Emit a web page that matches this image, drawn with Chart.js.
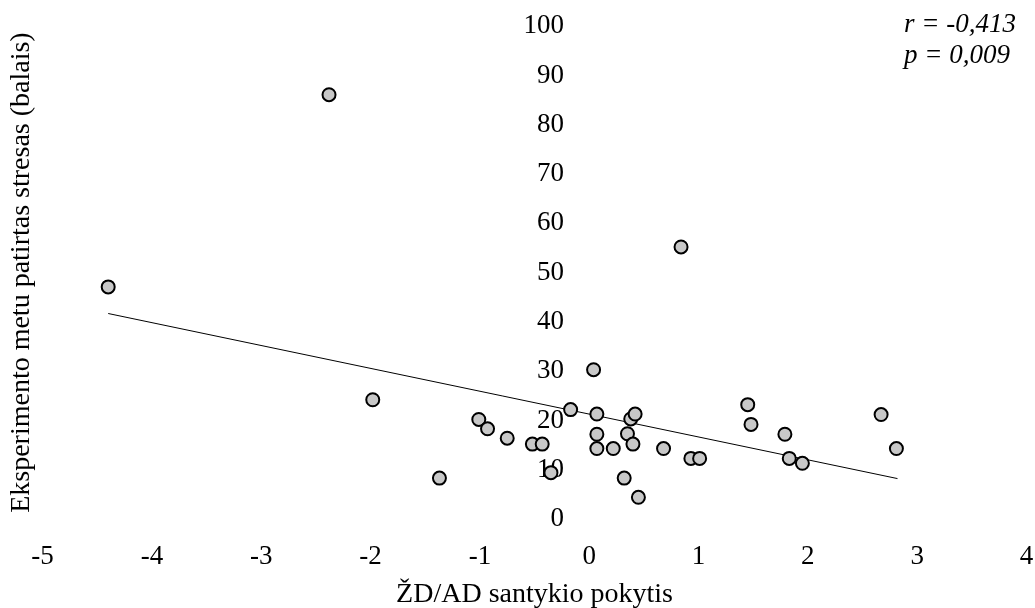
<!DOCTYPE html>
<html>
<head>
<meta charset="utf-8">
<script src="https://cdn.jsdelivr.net/npm/chart.js@4"></script>
<style>
  html, body { margin: 0; padding: 0; background: #fff; }
  #wrap { width: 1035px; height: 608px; }
</style>
</head>
<body>
<div id="wrap"><canvas id="c" width="1035" height="608"></canvas></div>
<script>
// ŽD/AD ratio change (x) vs. stress during experiment (y)
const ratioChange = [-4.40, -2.38, -1.98, -1.37, -1.01, -0.93, -0.75, -0.52, -0.43, -0.35,
  -0.17, 0.04, 0.07, 0.07, 0.07, 0.22, 0.32, 0.35, 0.38, 0.40, 0.42, 0.45, 0.68, 0.84,
  0.93, 1.01, 1.45, 1.48, 1.79, 1.83, 1.95, 2.67, 2.81];
const stressScore = [47.1, 86.1, 24.2, 8.3, 20.2, 18.3, 16.4, 15.2, 15.2, 9.4,
  22.2, 30.3, 21.3, 17.2, 14.3, 14.3, 8.3, 17.3, 20.3, 15.2, 21.3, 4.4, 14.3, 55.2,
  12.3, 12.3, 23.2, 19.2, 17.2, 12.3, 11.3, 21.2, 14.3];

// trend line end points
const trendX = [-4.40, 2.82];
const trendY = [41.7, 8.2];

const xTicks = [-5, -4, -3, -2, -1, 0, 1, 2, 3, 4];
const yTicks = [0, 10, 20, 30, 40, 50, 60, 70, 80, 90, 100];
const statsText = ["r = -0,413", "p = 0,009"];

const serif = "'Liberation Serif', 'Times New Roman', serif";

const statsPlugin = {
  id: "stats",
  afterDraw(chart) {
    const ctx = chart.ctx;
    ctx.save();
    ctx.font = "italic 27px " + serif;
    ctx.fillStyle = "#000";
    ctx.textAlign = "left";
    ctx.textBaseline = "middle";
    statsText.forEach((t, i) => ctx.fillText(t, 904, 25 + i * 30.5));
    ctx.restore();
  }
};

new Chart(document.getElementById("c"), {
  type: "scatter",
  data: {
    datasets: [
      {
        type: "line",
        data: trendX.map((x, i) => ({ x, y: trendY[i] })),
        borderColor: "#000",
        borderWidth: 1,
        pointRadius: 0,
        fill: false,
        order: 2
      },
      {
        data: ratioChange.map((x, i) => ({ x, y: stressScore[i] })),
        backgroundColor: "#c8c8c8",
        borderColor: "#000",
        borderWidth: 2,
        pointRadius: 6.5,
        order: 1
      }
    ]
  },
  options: {
    responsive: false,
    animation: false,
    layout: { padding: { top: 5, right: 0, bottom: -3, left: 0 } },
    plugins: { legend: { display: false }, tooltip: { enabled: false } },
    scales: {
      x: {
        type: "linear",
        min: -5,
        max: 4,
        afterBuildTicks: s => { s.ticks = xTicks.map(v => ({ value: v })); },
        // transparent tick marks only make room above the labels
        grid: { display: true, color: "transparent", drawOnChartArea: false, drawTicks: true, tickLength: 22 },
        border: { display: false },
        ticks: { color: "#000", font: { family: serif, size: 27 }, padding: 0 },
        title: {
          display: true,
          text: "ŽD/AD santykio pokytis",
          color: "#000",
          font: { family: serif, size: 28 },
          padding: { top: 4, bottom: 0 }
        }
      },
      y: {
        type: "linear",
        min: 0,
        max: 100,
        // labels sit just left of the x = 0 crossing
        position: { x: -0.23 },
        afterBuildTicks: s => { s.ticks = yTicks.map(v => ({ value: v })); },
        grid: { display: false, drawTicks: false },
        border: { display: false },
        ticks: { color: "#000", font: { family: serif, size: 27 }, padding: 10 }
      },
      yTitle: {
        type: "linear",
        position: "left",
        min: 0,
        max: 100,
        grid: { display: false, drawTicks: false },
        border: { display: false },
        ticks: { display: false },
        title: {
          display: true,
          text: "Eksperimento metu patirtas stresas (balais)",
          color: "#000",
          font: { family: serif, size: 28 },
          padding: { top: 5, bottom: 4 }
        }
      }
    }
  },
  plugins: [statsPlugin]
});
</script>
</body>
</html>
